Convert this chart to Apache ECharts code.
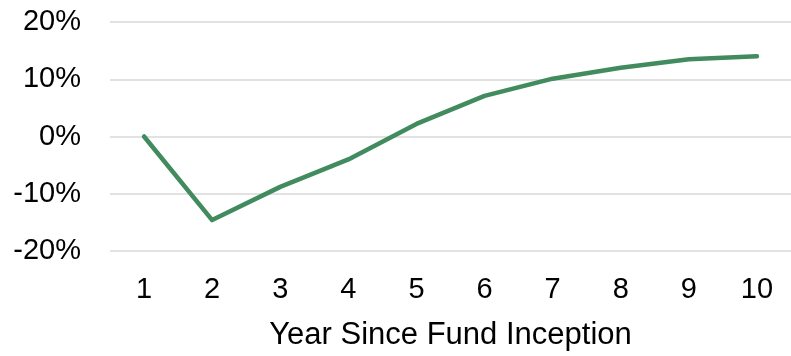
<!DOCTYPE html>
<html>
<head>
<meta charset="utf-8">
<script src="https://cdn.jsdelivr.net/npm/echarts@6/dist/echarts.min.js"></script>
<style>html,body{margin:0;padding:0;background:#fff}#c{width:791px;height:356px}</style>
</head>
<body>
<div id="c"></div>
<script>
const categories = ['1','2','3','4','5','6','7','8','9','10'];
const returns = [0, -14.6, -8.8, -4.0, 2.2, 7.1, 10.1, 12.0, 13.5, 14.0];
const yTicks = [-20, -10, 0, 10, 20];
const xTitle = 'Year Since Fund Inception';

const chart = echarts.init(document.getElementById('c'), null, {renderer: 'canvas'});
chart.setOption({
  animation: false,
  grid: {left: 110, width: 690, top: 22, height: 236, containLabel: false},
  xAxis: {
    type: 'category',
    data: categories,
    boundaryGap: true,
    axisLine: {show: false},
    axisTick: {show: false},
    axisLabel: {color: '#000', fontFamily: 'Liberation Sans', fontSize: 29, margin: 24},
    name: xTitle,
    nameLocation: 'middle',
    nameGap: 69,
    nameTextStyle: {color: '#000', fontFamily: 'Liberation Sans', fontSize: 31}
  },
  yAxis: {
    type: 'value',
    min: yTicks[0],
    max: yTicks[yTicks.length - 1],
    interval: 10,
    axisLine: {show: false},
    axisTick: {show: false},
    splitLine: {lineStyle: {color: '#d9d9d9', width: 1.5}},
    axisLabel: {color: '#000', fontFamily: 'Liberation Sans', fontSize: 29, margin: 29, formatter: v => v + '%'}
  },
  series: [{
    type: 'line',
    data: returns,
    symbol: 'none',
    lineStyle: {color: '#418b5e', width: 4.5, cap: 'round', join: 'round'}
  }]
});
</script>
</body>
</html>
